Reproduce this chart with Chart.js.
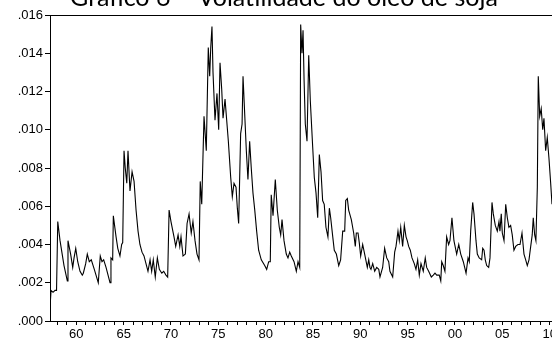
<!DOCTYPE html>
<html>
<head>
<meta charset="utf-8">
<script src="https://cdn.jsdelivr.net/npm/chart.js@4.4.0/dist/chart.umd.min.js"></script>
<style>
  html, body { margin: 0; padding: 0; background: #fff; overflow: hidden; }
  #wrap { position: relative; width: 552px; height: 347px; overflow: hidden; }
  #volChart { position: absolute; left: 0; top: -17px; }
</style>
</head>
<body>
<div id="wrap"><canvas id="volChart" width="600" height="364"></canvas></div>
<script>
// readings of the series (decimal year, volatility)
const years = [
  1957.27, 1957.33, 1957.54, 1957.75, 1957.91, 1958.04, 1958.28, 1958.70, 1959.05, 1959.12,
  1959.40, 1959.62, 1959.76, 1959.94, 1960.15, 1960.39, 1960.63, 1960.74, 1960.99, 1961.16,
  1961.37, 1961.58, 1961.90, 1962.32, 1962.53, 1962.71, 1962.89, 1963.14, 1963.56, 1963.66,
  1963.84, 1963.91, 1964.20, 1964.38, 1964.61, 1964.79, 1964.90, 1965.04, 1965.17, 1965.33,
  1965.46, 1965.67, 1965.89, 1966.10, 1966.31, 1966.52, 1966.72, 1966.94, 1967.15, 1967.36,
  1967.57, 1967.79, 1967.96, 1968.13, 1968.34, 1968.56, 1968.77, 1969.03, 1969.23, 1969.47,
  1969.65, 1969.80, 1970.00, 1970.24, 1970.32, 1970.50, 1970.75, 1970.93, 1971.06, 1971.27,
  1971.52, 1971.70, 1971.91, 1972.14, 1972.32, 1972.54, 1972.75, 1972.96, 1973.09, 1973.25,
  1973.49, 1973.73, 1973.94, 1974.09, 1974.20, 1974.33, 1974.44, 1974.65, 1974.86, 1975.04,
  1975.18, 1975.36, 1975.50, 1975.71, 1976.06, 1976.31, 1976.48, 1976.66, 1976.87, 1977.01,
  1977.15, 1977.36, 1977.51, 1977.61, 1977.79, 1977.96, 1978.13, 1978.31, 1978.48, 1978.66,
  1978.85, 1979.05, 1979.26, 1979.54, 1979.90, 1980.11, 1980.32, 1980.49, 1980.59, 1980.78,
  1981.02, 1981.23, 1981.44, 1981.59, 1981.73, 1981.94, 1982.18, 1982.36, 1982.54, 1982.71,
  1983.00, 1983.24, 1983.42, 1983.60, 1983.70, 1983.84, 1983.95, 1984.06, 1984.19, 1984.37,
  1984.55, 1984.72, 1984.97, 1985.14, 1985.32, 1985.50, 1985.67, 1985.85, 1986.02, 1986.19,
  1986.37, 1986.58, 1986.73, 1986.87, 1987.09, 1987.25, 1987.47, 1987.72, 1987.92, 1988.14,
  1988.35, 1988.46, 1988.63, 1988.77, 1989.05, 1989.30, 1989.47, 1989.58, 1989.76, 1989.89,
  1990.04, 1990.25, 1990.46, 1990.74, 1990.89, 1991.02, 1991.13, 1991.31, 1991.52, 1991.73,
  1991.95, 1992.08, 1992.36, 1992.57, 1992.79, 1993.00, 1993.13, 1993.42, 1993.63, 1993.77,
  1993.98, 1994.12, 1994.27, 1994.47, 1994.65, 1994.83, 1994.96, 1995.11, 1995.28, 1995.46,
  1995.70, 1995.88, 1996.06, 1996.23, 1996.41, 1996.65, 1996.86, 1997.01, 1997.22, 1997.50,
  1997.71, 1997.89, 1998.07, 1998.34, 1998.50, 1998.60, 1998.76, 1998.94, 1999.12, 1999.33,
  1999.47, 1999.68, 1999.89, 2000.18, 2000.40, 2000.61, 2000.88, 2001.17, 2001.38, 2001.51,
  2001.66, 2001.87, 2002.01, 2002.22, 2002.36, 2002.56, 2002.82, 2002.93, 2003.07, 2003.20,
  2003.35, 2003.56, 2003.70, 2003.91, 2004.05, 2004.26, 2004.47, 2004.65, 2004.75, 2004.89,
  2005.00, 2005.18, 2005.36, 2005.53, 2005.70, 2005.88, 2006.05, 2006.23, 2006.41, 2006.65,
  2006.87, 2007.08, 2007.29, 2007.47, 2007.64, 2007.82, 2008.00, 2008.16, 2008.27, 2008.42,
  2008.55, 2008.70, 2008.80, 2008.95, 2009.11, 2009.27, 2009.40, 2009.58, 2009.75, 2009.93,
  2010.11, 2010.25
];
const volatility = [
  .0011, .0016, .0015, .0016, .0016, .0052, .0042, .0029, .0021, .0042,
  .0035, .0028, .0033, .0038, .0031, .0026, .0024, .0025, .0030, .0035,
  .0031, .0032, .0027, .0020, .0034, .0031, .0032, .0028, .0020, .0033,
  .0032, .0055, .0044, .0038, .0034, .0040, .0041, .0089, .0080, .0072,
  .0089, .0068, .0078, .0073, .0058, .0047, .0040, .0036, .0034, .0030,
  .0026, .0032, .0026, .0032, .0023, .0033, .0027, .0025, .0026, .0024,
  .0023, .0058, .0052, .0046, .0044, .0039, .0045, .0039, .0044, .0034,
  .0035, .0051, .0056, .0046, .0052, .0042, .0035, .0032, .0073, .0061,
  .0107, .0089, .0143, .0128, .0143, .0154, .0130, .0105, .0119, .0100,
  .0135, .0121, .0106, .0116, .0094, .0075, .0065, .0072, .0070, .0059,
  .0051, .0098, .0103, .0128, .0108, .0089, .0074, .0094, .0080, .0067,
  .0058, .0047, .0037, .0032, .0029, .0027, .0031, .0031, .0066, .0055,
  .0074, .0058, .0049, .0045, .0053, .0042, .0035, .0033, .0036, .0034,
  .0031, .0026, .0031, .0028, .0155, .0140, .0152, .0126, .0103, .0094,
  .0139, .0115, .0091, .0075, .0067, .0054, .0087, .0078, .0063, .0061,
  .0049, .0044, .0059, .0054, .0044, .0037, .0035, .0029, .0032, .0047,
  .0047, .0063, .0064, .0058, .0053, .0046, .0039, .0046, .0046, .0041,
  .0034, .0040, .0035, .0028, .0032, .0028, .0027, .0030, .0026, .0028,
  .0027, .0023, .0028, .0038, .0033, .0031, .0026, .0023, .0036, .0039,
  .0047, .0042, .0049, .0039, .0050, .0044, .0042, .0039, .0037, .0033,
  .0030, .0027, .0032, .0024, .0030, .0026, .0033, .0028, .0026, .0023,
  .0024, .0025, .0024, .0024, .0021, .0031, .0029, .0026, .0044, .0040,
  .0042, .0054, .0042, .0035, .0040, .0035, .0031, .0025, .0033, .0031,
  .0047, .0062, .0056, .0042, .0035, .0033, .0032, .0038, .0037, .0032,
  .0029, .0028, .0033, .0062, .0056, .0050, .0047, .0052, .0047, .0056,
  .0046, .0042, .0061, .0054, .0049, .0050, .0045, .0037, .0039, .0040,
  .0040, .0046, .0035, .0032, .0029, .0032, .0039, .0045, .0054, .0045,
  .0042, .0070, .0128, .0107, .0111, .0100, .0106, .0089, .0096, .0085,
  .0072, .0061
];
const labelYears = [1960, 1965, 1970, 1975, 1980, 1985, 1990, 1995, 2000, 2005, 2010];

const tickFont = { family: "'Liberation Sans', Arial, sans-serif", size: 13 };

// box around the plot area
const frame = {
  id: 'frame',
  afterDraw(chart) {
    const { ctx, chartArea: a } = chart;
    ctx.save();
    ctx.strokeStyle = '#000';
    ctx.lineWidth = 1;
    ctx.strokeRect(a.left + 0.5, a.top + 0.5, a.right - a.left, a.bottom - a.top);
    ctx.restore();
  }
};

const volChart = new Chart(document.getElementById('volChart'), {
  type: 'line',
  data: {
    datasets: [{
      data: years.map((x, i) => ({ x: x, y: volatility[i] })),
      borderColor: '#000',
      borderWidth: 1.1,
      pointRadius: 0,
      tension: 0,
      fill: false
    }]
  },
  options: {
    responsive: false,
    animation: false,
    devicePixelRatio: 1,
    layout: { padding: { left: 0, top: 0, bottom: 0, right: 32 } },
    plugins: {
      legend: { display: false },
      tooltip: { enabled: false },
      title: {
        display: true,
        text: 'Gráfico 6 – Volatilidade do óleo de soja',
        color: '#000',
        font: { family: 'Lato, sans-serif', size: 25, weight: 'normal' },
        padding: { top: 0, bottom: 2 }
      }
    },
    scales: {
      x: {
        type: 'linear',
        min: 1957.22,
        max: 2011.94,
        border: { display: false },
        grid: { drawOnChartArea: false, drawTicks: true, tickLength: 4, color: '#000' },
        ticks: {
          stepSize: 1,
          autoSkip: false,
          maxRotation: 0,
          includeBounds: false,
          padding: 2,
          color: '#000',
          font: tickFont,
          callback: function(value) {
            const yr = Math.round(value);
            return labelYears.includes(yr) ? String(yr).slice(2) : '';
          }
        },
        afterFit: function(scale) { scale.height = 26; }
      },
      y: {
        min: 0,
        max: 0.016,
        border: { display: false },
        grid: { drawOnChartArea: false, drawTicks: true, tickLength: 5, color: '#000' },
        ticks: {
          stepSize: 0.002,
          padding: 2,
          color: '#000',
          font: tickFont,
          callback: function(value) {
            return value.toFixed(3).replace(/^0/, '');
          }
        },
        afterFit: function(scale) { scale.width = 50; }
      }
    }
  },
  plugins: [frame]
});
</script>
</body>
</html>
